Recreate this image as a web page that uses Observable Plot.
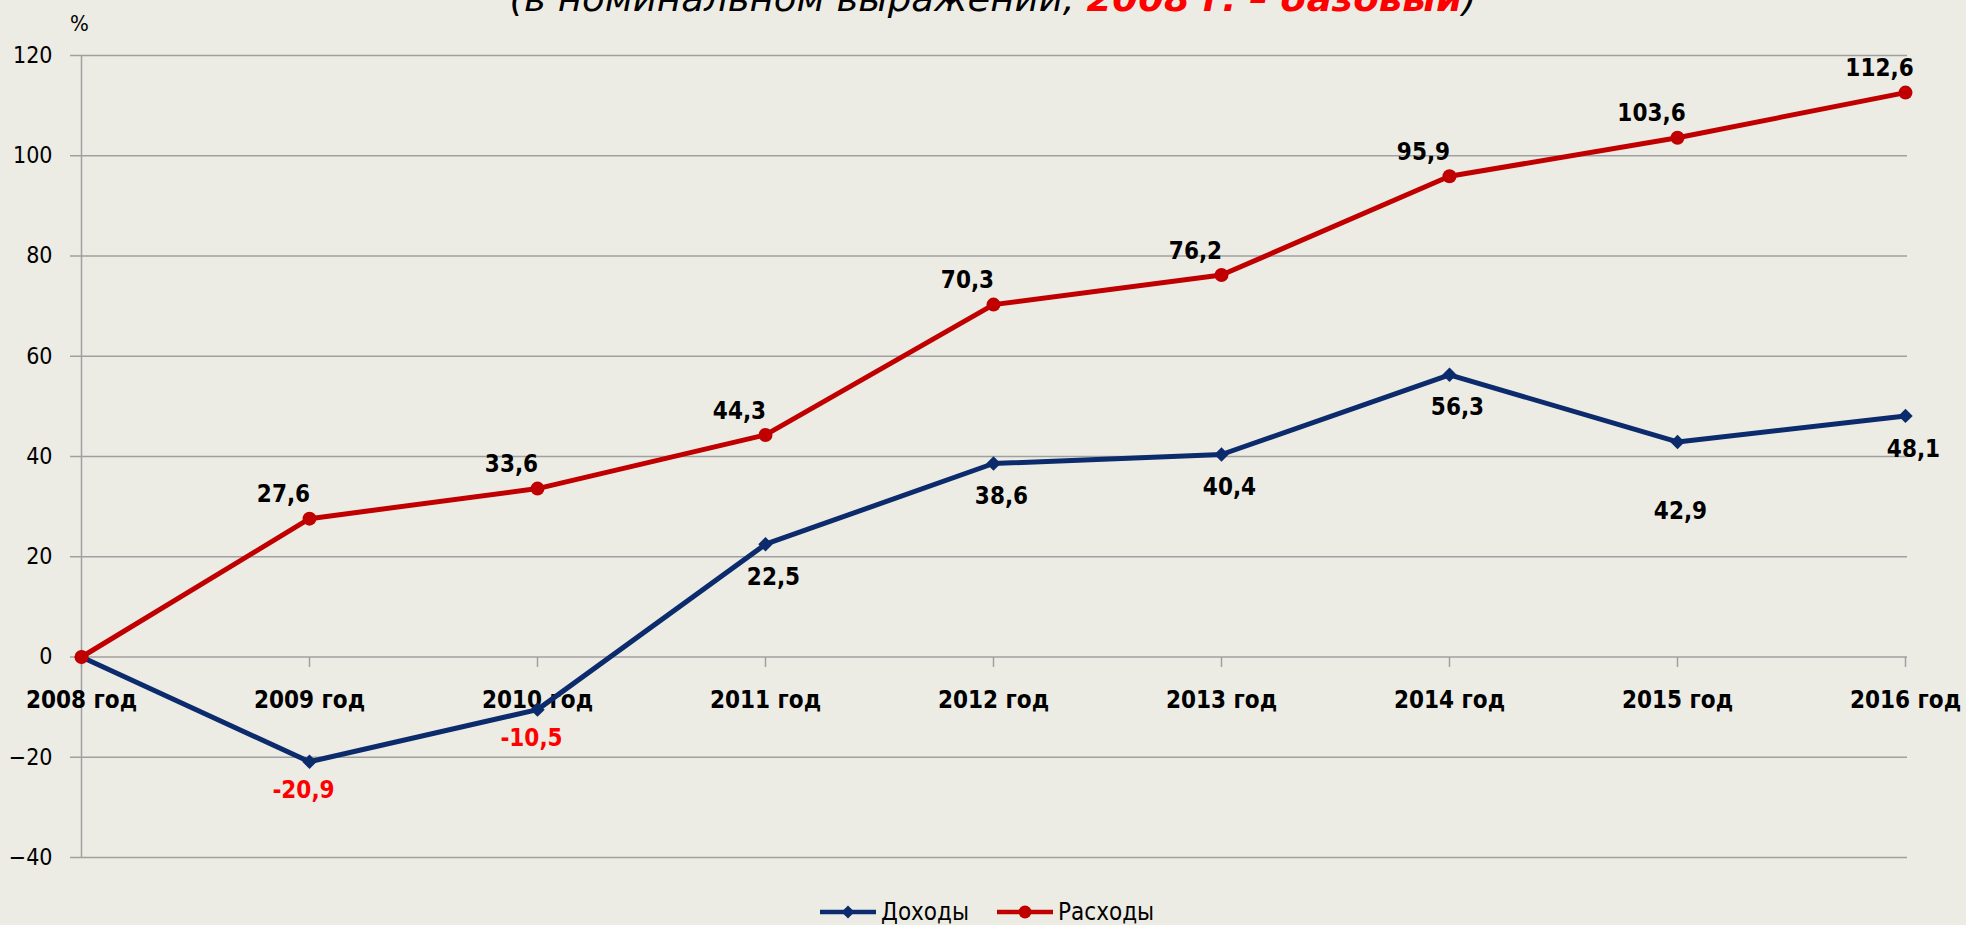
<!DOCTYPE html>
<html><head><meta charset="utf-8">
<script src="https://cdn.jsdelivr.net/npm/d3@7"></script>
<script src="https://cdn.jsdelivr.net/npm/@observablehq/plot@0.6"></script>
<style>
html,body{margin:0;padding:0;background:#edece4;width:1966px;height:925px;overflow:hidden;}
#chart{position:relative;width:1966px;height:925px;}
#chart svg{display:block;}
#legend{position:absolute;left:820px;top:897px;height:30px;display:flex;align-items:center;font-family:'DejaVu Sans Condensed','DejaVu Sans',sans-serif;font-size:24px;color:#000;}
#legend .item{display:flex;align-items:center;}
#legend .item span{margin-left:5px;}
</style></head><body><div id="chart"><div id="legend"></div></div>
<script>
const years = ["2008 год","2009 год","2010 год","2011 год","2012 год","2013 год","2014 год","2015 год","2016 год"];
const income = [0,-20.9,-10.5,22.5,38.6,40.4,56.3,42.9,48.1];
const expenses = [0,27.6,33.6,44.3,70.3,76.2,95.9,103.6,112.6];
const yTicks = [-40,-20,0,20,40,60,80,100,120];
const seriesNames = ["Доходы","Расходы"];
const titleBlack1 = "(в номинальном выражении, ";
const titleRed = "2008 г. – базовый";
const titleBlack2 = ")";
const unitLabel = "%";

const BLUE = "#0c2b6c", RED = "#c00000", GRID = "#a0a0a0", NEG = "#ff0000";
const FONT = "'DejaVu Sans Condensed','DejaVu Sans',sans-serif";
const rows = years.map((year,i)=>({year, income: income[i], expenses: expenses[i], i}));
const fmt = v => v.toFixed(1).replace(".", ",");
const tickDown = {draw(ctx){ctx.moveTo(0,0);ctx.lineTo(0,10);}};

const labeled = rows.filter(d => d.i > 0);
const incNormal = labeled.filter(d => d.year !== "2015 год");
const incLow = labeled.filter(d => d.year === "2015 год");

const plot = Plot.plot({
  width: 1966, height: 870,
  marginLeft: 78, marginRight: 59, marginTop: 55, marginBottom: 13,
  style: {background: "transparent", fontFamily: FONT, fontSize: "23px", color: "#000"},
  x: {type: "point", domain: years, padding: 0, axis: null},
  y: {domain: [-40, 120], axis: null},
  marks: [
    Plot.gridY(yTicks, {stroke: GRID, strokeOpacity: 1, strokeWidth: 1.5}),
    Plot.axisY(yTicks, {tickSize: 8, tickPadding: 18, stroke: GRID, strokeOpacity: 1, strokeWidth: 1.5, fontSize: 23, label: null}),
    Plot.ruleX([years[0]], {y1: -40, y2: 120, stroke: GRID, strokeWidth: 1.5}),
    Plot.dot(years, {x: d => d, y: 0, symbol: tickDown, stroke: GRID, strokeWidth: 1.5, fill: "none"}),
    Plot.text(years, {x: d => d, y: 0, dy: 43, text: d => d, fontWeight: "bold", fontSize: 24, fill: "#000"}),
    Plot.text([unitLabel], {x: () => years[0], y: () => 120, dy: -32, dx: -2, text: d => d, fontSize: 22, fill: "#000"}),
    Plot.line(rows, {x: "year", y: "income", stroke: BLUE, strokeWidth: 5}),
    Plot.dot(rows, {x: "year", y: "income", symbol: "diamond2", r: 6.5, fill: BLUE, stroke: "none"}),
    Plot.line(rows, {x: "year", y: "expenses", stroke: RED, strokeWidth: 5}),
    Plot.dot(rows, {x: "year", y: "expenses", r: 7, fill: RED, stroke: "none"}),
    Plot.text(labeled, {x: "year", y: "expenses", text: d => fmt(d.expenses), dx: -26, dy: -24, fontWeight: "bold", fontSize: 24, fill: "#000", ariaLabel: "datalabel"}),
    Plot.text(incNormal.filter(d => d.income >= 0), {x: "year", y: "income", text: d => fmt(d.income), dx: 8, dy: 33, fontWeight: "bold", fontSize: 24, fill: "#000", ariaLabel: "datalabel"}),
    Plot.text(incNormal.filter(d => d.income < 0), {x: "year", y: "income", text: d => fmt(d.income), dx: -6, dy: 29, fontWeight: "bold", fontSize: 24, fill: NEG, ariaLabel: "datalabel"}),
    Plot.text(incLow, {x: "year", y: "income", text: d => fmt(d.income), dx: 3, dy: 69, fontWeight: "bold", fontSize: 24, fill: "#000", ariaLabel: "datalabel"})
  ]
});

const svg = d3.select(plot);
svg.selectAll('g[aria-label="datalabel"] text').style("letter-spacing", "1.5px");
const t = svg.append("text")
  .attr("x", 993).attr("y", 11)
  .attr("text-anchor", "middle")
  .attr("font-family", FONT)
  .attr("font-style", "italic")
  .attr("font-size", 36)
  .attr("textLength", 967)
  .attr("lengthAdjust", "spacingAndGlyphs");
t.append("tspan").attr("fill", "#000").text(titleBlack1);
t.append("tspan").attr("fill", NEG).attr("font-weight", "bold").text(titleRed);
t.append("tspan").attr("fill", "#000").text(titleBlack2);

document.getElementById("chart").prepend(plot);

const legend = d3.select("#legend");
const colors = [BLUE, RED];
seriesNames.forEach((name, k) => {
  const item = legend.append("div").attr("class", "item").style("margin-left", k ? "28px" : "0px");
  const sw = item.append("svg").attr("width", 56).attr("height", 20);
  sw.append("line").attr("x1", 0).attr("x2", 56).attr("y1", 10).attr("y2", 10).attr("stroke", colors[k]).attr("stroke-width", 4.5);
  if (k === 0) sw.append("path").attr("d", "M28,3.5L34.5,10L28,16.5L21.5,10Z").attr("fill", colors[k]);
  else sw.append("circle").attr("cx", 28).attr("cy", 10).attr("r", 6.5).attr("fill", colors[k]);
  item.append("span").text(name);
});
</script>
</body></html>
